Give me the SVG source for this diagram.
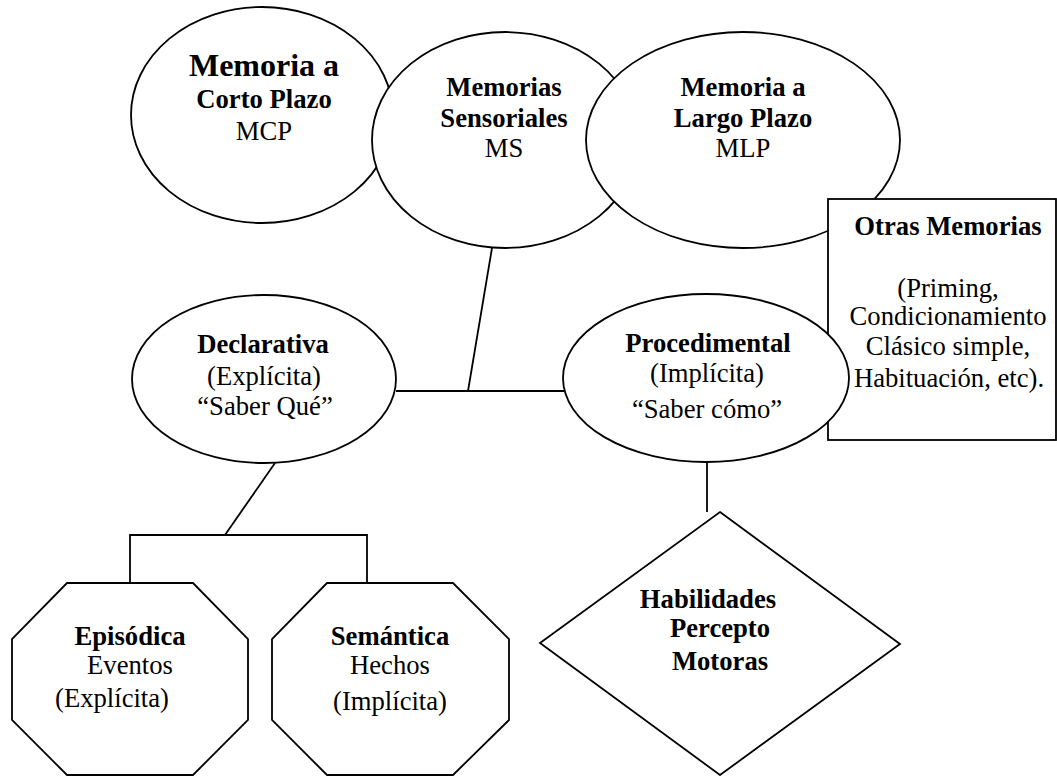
<svg xmlns="http://www.w3.org/2000/svg" width="1057" height="776" viewBox="0 0 1057 776">
<style>
.s{fill:#fff;stroke:#000;stroke-width:1.8}
.c{fill:none;stroke:#000;stroke-width:1.8}
text{font-family:"Liberation Serif","Times New Roman",serif;font-size:26.67px;fill:#000;text-anchor:middle}
.b{font-weight:bold}
.big{font-size:32px}
</style>
<rect width="1057" height="776" fill="#fff"/>
<g id="connectors">
<line class="c" x1="492" y1="248" x2="468" y2="391"/>
<line class="c" x1="396" y1="391" x2="564" y2="391"/>
<line class="c" x1="275" y1="463" x2="225" y2="535"/>
<polyline class="c" points="130,583 130,535 367,535 367,583"/>
<line class="c" x1="707" y1="462" x2="707" y2="512"/>
</g>
<g id="mcp">
<ellipse class="s" cx="262" cy="115" rx="131" ry="108"/>
<text x="264" y="76" class="b big">Memoria a</text>
<text x="264" y="108" class="b">Corto Plazo</text>
<text x="264" y="140">MCP</text>
</g>
<g id="ms">
<ellipse class="s" cx="505" cy="140" rx="133" ry="108"/>
<text x="504" y="96" class="b">Memorias</text>
<text x="504" y="127" class="b">Sensoriales</text>
<text x="504" y="157">MS</text>
</g>
<g id="mlp">
<ellipse class="s" cx="743" cy="140" rx="157" ry="108"/>
<text x="743" y="96" class="b">Memoria a</text>
<text x="743" y="127" class="b">Largo Plazo</text>
<text x="743" y="157">MLP</text>
</g>
<g id="otras">
<rect class="s" x="828" y="199" width="228" height="241"/>
<text x="948" y="235" class="b">Otras Memorias</text>
<text x="948" y="297">(Priming,</text>
<text x="948" y="325">Condicionamiento</text>
<text x="948" y="355">Clásico simple,</text>
<text x="949" y="387">Habituación, etc).</text>
</g>
<g id="declarativa">
<ellipse class="s" cx="264" cy="379" rx="132" ry="84"/>
<text x="263" y="353" class="b">Declarativa</text>
<text x="264" y="385">(Explícita)</text>
<text x="265" y="415">“Saber Qué”</text>
</g>
<g id="procedimental">
<ellipse class="s" cx="706" cy="378" rx="143" ry="84"/>
<text x="708" y="352" class="b">Procedimental</text>
<text x="707" y="382">(Implícita)</text>
<text x="707" y="418">“Saber cómo”</text>
</g>
<g id="episodica">
<polygon class="s" points="67,583 193,583 248,639 248,720 193,775 67,775 12,720 12,639"/>
<text x="130" y="645" class="b">Episódica</text>
<text x="130" y="674">Eventos</text>
<text x="112" y="707">(Explícita)</text>
</g>
<g id="semantica">
<polygon class="s" points="327,583 453,583 509,639 509,720 453,775 327,775 272,720 272,639"/>
<text x="390" y="645" class="b">Semántica</text>
<text x="390" y="674">Hechos</text>
<text x="390" y="710">(Implícita)</text>
</g>
<g id="habilidades">
<polygon class="s" points="720,512 900,644 720,775 540,643"/>
<text x="708" y="608" class="b">Habilidades</text>
<text x="720" y="637" class="b">Percepto</text>
<text x="720" y="670" class="b">Motoras</text>
</g>
</svg>
